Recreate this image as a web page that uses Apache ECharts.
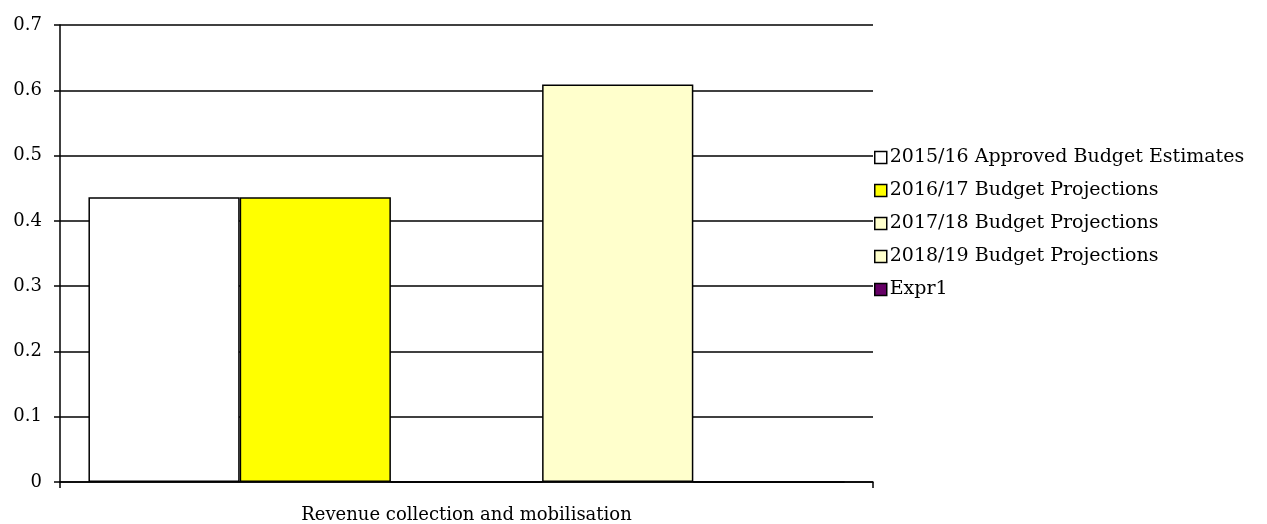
<!DOCTYPE html>
<html>
<head>
<meta charset="utf-8">
<script src="https://cdn.jsdelivr.net/npm/echarts@6/dist/echarts.min.js"></script>
<style>
  html, body { margin: 0; padding: 0; background: #fff; }
  #chart { width: 1267px; height: 524px; }
</style>
</head>
<body>
<div id="chart"></div>
<script>
// data
var categories = ["Revenue collection and mobilisation"];
var seriesNames = [
  "2015/16 Approved Budget Estimates",
  "2016/17 Budget Projections",
  "2017/18 Budget Projections",
  "2018/19 Budget Projections",
  "Expr1"
];
var budget1516 = [0.436];
var budget1617 = [0.436];
var budget1718 = [0];
var budget1819 = [0.609];
var expr1 = [0];
var seriesValues = [budget1516, budget1617, budget1718, budget1819, expr1];
var seriesColors = ["#FFFFFF", "#FFFF00", "#FFFFCC", "#FFFFCC", "#660066"];

var myChart = echarts.init(document.getElementById("chart"));
var font = "DejaVu Serif";

myChart.setOption({
  animation: false,
  backgroundColor: "#fff",
  grid: { left: 60, right: 394, top: 25, bottom: 41 },
  legend: {
    orient: "vertical",
    left: 869,
    top: 143,
    icon: "rect",
    itemWidth: 12,
    itemHeight: 12,
    itemGap: 14,
    data: seriesNames,
    textStyle: { fontFamily: font, fontSize: 19, color: "#000", padding: [0, 0, 0, -2] },
    itemStyle: { borderColor: "#000", borderWidth: 1.5 }
  },
  xAxis: {
    type: "category",
    data: categories,
    axisLine: { lineStyle: { color: "#000", width: 1.5 } },
    axisTick: { show: true, length: 6, lineStyle: { color: "#000", width: 1.5 } },
    axisLabel: { fontFamily: font, fontSize: 18, color: "#000", margin: 24 }
  },
  yAxis: {
    type: "value",
    min: 0,
    max: 0.7,
    interval: 0.1,
    axisLine: { show: true, lineStyle: { color: "#000", width: 1.5 } },
    axisTick: { show: true, length: 6, lineStyle: { color: "#000", width: 1.5 } },
    axisLabel: { fontFamily: font, fontSize: 18, color: "#000", margin: 18 },
    splitLine: { lineStyle: { color: "#000", width: 1.5 } }
  },
  series: seriesNames.map(function (name, i) {
    return {
      name: name,
      type: "bar",
      data: seriesValues[i],
      barGap: "0%",
      barCategoryGap: "7%",
      itemStyle: { color: seriesColors[i], borderColor: "#000", borderWidth: 1.5 }
    };
  })
});
</script>
</body>
</html>
